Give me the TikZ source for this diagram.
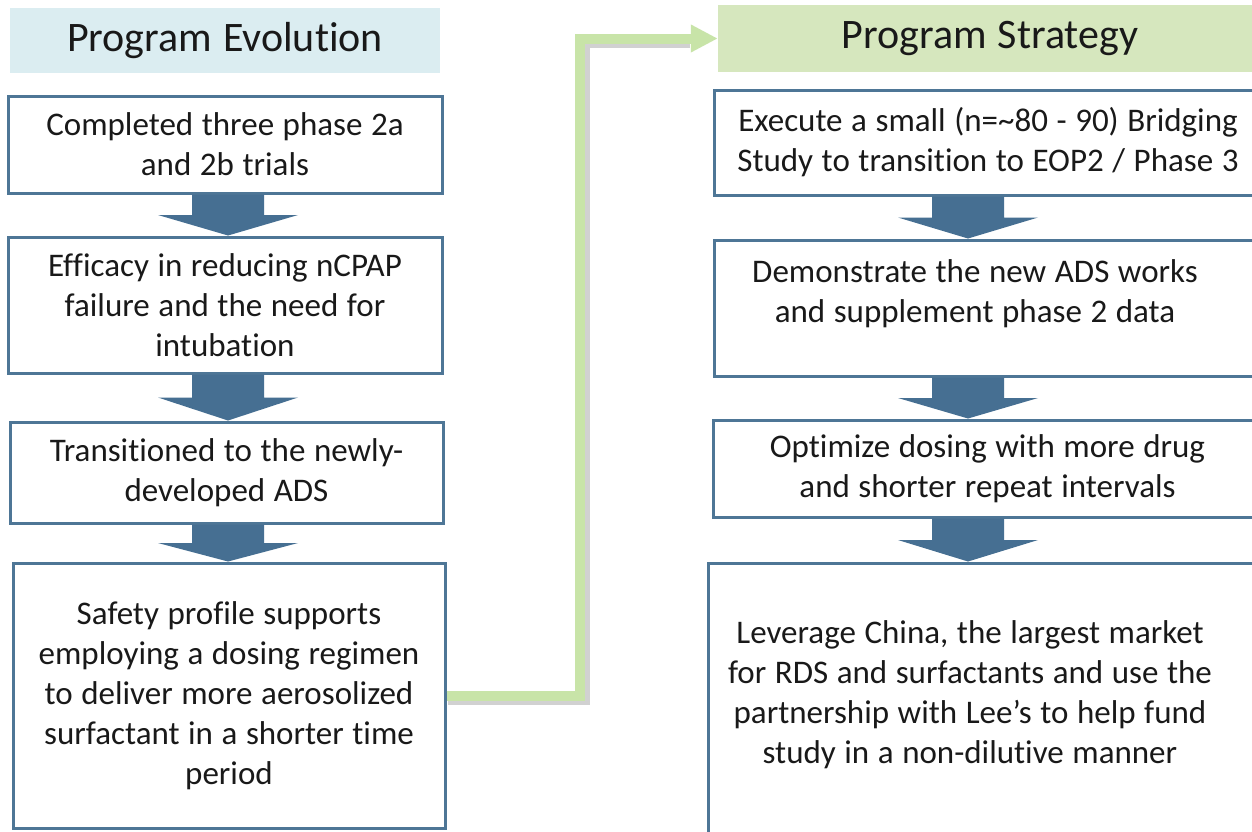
\documentclass[tikz,border=0pt]{standalone}
\usepackage{fontspec}
\setmainfont{Carlito}[Ligatures={NoCommon}, WordSpace=1.15]
\usetikzlibrary{calc,arrows.meta}
\definecolor{bordc}{RGB}{78,118,150}
\definecolor{arrc}{RGB}{70,111,146}
\definecolor{bluet}{RGB}{219,237,241}
\definecolor{greent}{RGB}{214,231,190}
\definecolor{greenc}{RGB}{200,228,168}
\definecolor{txtc}{RGB}{25,25,25}
\tikzset{
  box/.style={draw=bordc, line width=3pt, fill=white, inner sep=0pt, align=center,
    text=txtc, font=\fontsize{33}{40}\selectfont},
  ttl/.style={inner sep=0pt, text=txtc, font=\fontsize{42}{50}\selectfont},
  lbl/.style={inner sep=0pt, align=center, text=txtc, font=\fontsize{33}{40}\selectfont},
  conn/.style={draw=greenc, line width=10pt, -{Triangle[length=27pt,width=26pt]}},
  connshadow/.style={draw=black, opacity=0.18, line width=11pt},
}
\newcommand{\blockarr}[3]{%
  \fill[arrc] let \p1=(#1.south), \p2=(#2.north), \n1={(\y1+\y2)/2} in
    (#3pt-36pt,\y1) -- (#3pt+36pt,\y1) -- (#3pt+36pt,{\n1*1pt}) -- (#3pt+70pt,{\n1*1pt})
    -- (#3pt,\y2) -- (#3pt-70pt,{\n1*1pt}) -- (#3pt-36pt,{\n1*1pt}) -- cycle;}
\begin{document}
\begin{tikzpicture}[x=1pt,y=-1pt]
\useasboundingbox (0,0) rectangle (1252,831);
\clip (0,0) rectangle (1252,831);
\fill[white] (0,0) rectangle (1252,831);

% titles
\node[ttl, fill=bluet, minimum width=430pt, minimum height=65pt] (l0) at (225,40.5) {Program Evolution};
\node[ttl, fill=greent, minimum width=544pt, minimum height=67pt] (r0) at (990,38.5) {Program Strategy};

% left column
\node[box, minimum width=434pt, minimum height=97pt] (l1) at (225,144.5)
  {Completed three phase 2a\\and 2b trials};
\node[box, minimum width=434pt, minimum height=136pt] (l2) at (225,305)
  {Efficacy in reducing nCPAP\\failure and the need for\\intubation};
\node[box, minimum width=433pt, minimum height=101pt] (l3) at (226.5,472.5)
  {Transitioned to the newly-\\developed ADS};
\node[box, minimum width=432pt, minimum height=265pt] (l4) at (229,695.5)
  {Safety profile supports\\employing a dosing regimen\\to deliver more aerosolized\\surfactant in a shorter time\\period};

% right column
\node[box, minimum width=548pt, minimum height=105pt] (r1) at (988,142.5)
  {Execute a small (n=\textasciitilde80 - 90) Bridging\\Study to transition to EOP2 / Phase 3};
\node[box, minimum width=548pt, minimum height=136pt] (r2) at (988,308) {};
\node[lbl] (r2t) at (975,294) {Demonstrate the new ADS works\\and supplement phase 2 data};
\node[box, minimum width=549pt, minimum height=97pt] (r3) at (987.5,468.5)
  {Optimize dosing with more drug\\and shorter repeat intervals};
\node[box, minimum width=554pt, minimum height=282pt] (r4) at (985,704) {};
\node[lbl] (r4t) at (970,695) {Leverage China, the largest market\\for RDS and surfactants and use the\\partnership with Lee’s to help fund\\study in a non-dilutive manner};

% block arrows
\blockarr{l1}{l2}{228}
\blockarr{l2}{l3}{228}
\blockarr{l3}{l4}{228}
\blockarr{r1}{r2}{968}
\blockarr{r2}{r3}{968}
\blockarr{r3}{r4}{968}

% green connector
\draw[connshadow] ([xshift=1pt,yshift=-4pt]l4.east) -- ++(137,0) |- ([xshift=-28pt,yshift=-4pt]r0.west);
\draw[conn] (l4.east) -- ++(133,0) |- (r0.west);
\end{tikzpicture}
\end{document}
